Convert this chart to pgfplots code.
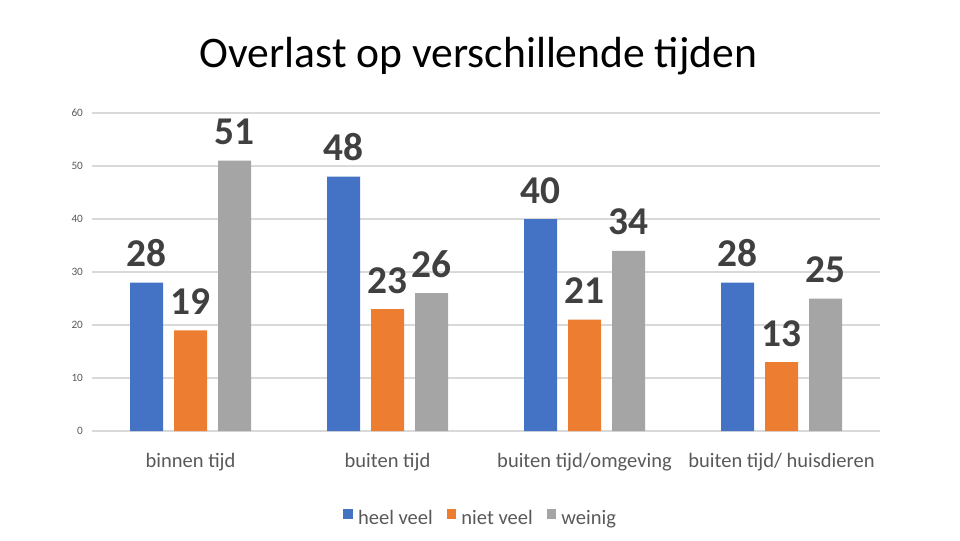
\documentclass[border=0pt]{standalone}
\usepackage{pgfplots}
\pgfplotsset{compat=1.18}
\usepackage{fontspec}
\setmainfont{Carlito}

\definecolor{heelveel}{HTML}{4472C4}
\definecolor{nietveel}{HTML}{ED7D31}
\definecolor{weinig}{HTML}{A5A5A5}
\definecolor{labeltxt}{HTML}{404040}
\definecolor{axistxt}{HTML}{595959}
\definecolor{gridclr}{HTML}{D9D9D9}

\begin{document}
\begin{tikzpicture}
	\path[use as bounding box] (0,0) rectangle (24cm,13.5cm);
	\node[anchor=base, inner sep=0pt, font=\fontsize{31}{36}\selectfont] at (11.96cm,11.8cm) {Overlast op verschillende tijden};

	\begin{axis}[
		at={(2.3cm,2.725cm)}, anchor=south west,
		scale only axis,
		width=19.7cm,
		height=7.95cm,
		ybar=0.275cm,
		bar width=0.825cm,
		xmin=-0.5, xmax=3.5,
		ymin=0, ymax=60,
		xtick={0,1,2,3},
		xticklabels={binnen tijd, buiten tijd, buiten tijd/omgeving, buiten tijd/ huisdieren},
		ytick={0,10,...,60},
		ymajorgrids,
		major grid style={draw=gridclr, line width=0.75pt},
		axis line style={draw=none},
		tick style={draw=none},
		/pgf/number format/assume math mode=true,
		yticklabel style={font=\fontsize{8}{10}\selectfont, text=axistxt, inner sep=0pt, xshift=-0.22cm},
		xticklabel style={font=\fontsize{14.6}{17}\selectfont, text=axistxt, anchor=base, inner sep=0pt, yshift=-0.75cm},
		nodes near coords,
		nodes near coords style={font=\fontsize{28}{30}\selectfont\bfseries, text=labeltxt, anchor=base, inner sep=0pt, yshift=0.4cm},
		legend image code/.code={\fill[#1] (0cm,0cm) rectangle (0.24cm,0.24cm);},
		legend style={at={(0.492,-0.2736)}, anchor=center, draw=none, fill=none,
			legend columns=-1, font=\fontsize{14.6}{17}\selectfont, text=axistxt,
			nodes={inner sep=0pt},
			/tikz/every odd column/.append style={column sep=0.125cm},
			/tikz/every even column/.append style={column sep=0.35cm}},
	]
	\addplot[fill=heelveel, draw=none] coordinates {(0,28) (1,48) (2,40) (3,28)};
	\addplot[fill=nietveel, draw=none] coordinates {(0,19) (1,23) (2,21) (3,13)};
	\addplot[fill=weinig, draw=none] coordinates {(0,51) (1,26) (2,34) (3,25)};
	\legend{heel veel, niet veel, weinig}
	\end{axis}
\end{tikzpicture}
\end{document}
